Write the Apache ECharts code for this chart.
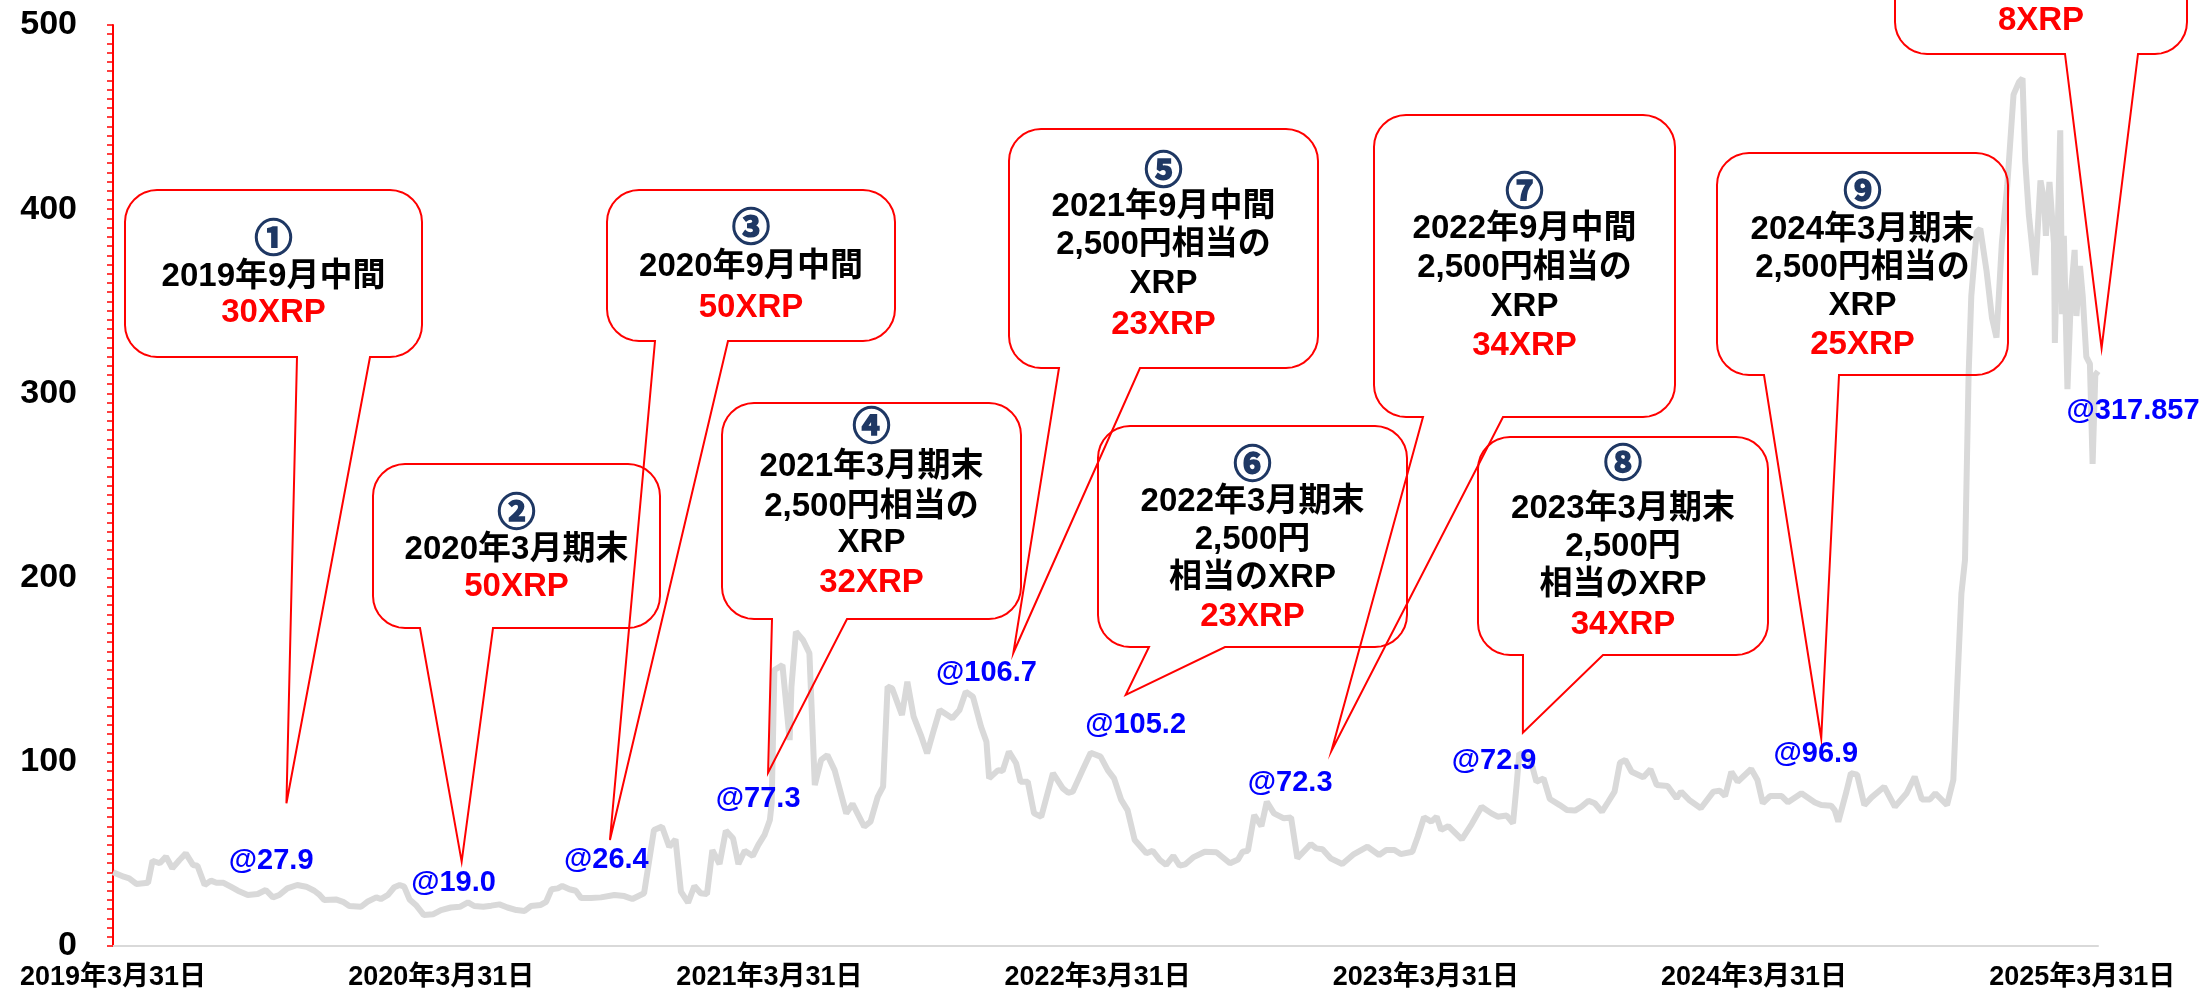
<!DOCTYPE html>
<html>
<head>
<meta charset="utf-8">
<script src="https://cdn.jsdelivr.net/npm/echarts@6/dist/echarts.min.js"></script>
<style>
  html, body { margin: 0; padding: 0; background: #fff; }
  #main { width: 2203px; height: 992px; }
</style>
</head>
<body>
<div id="main"></div>
<script>
// x axis labels (one per fiscal year end)
var xTickLabels = ['2019年3月31日', '2020年3月31日', '2021年3月31日', '2022年3月31日',
                   '2023年3月31日', '2024年3月31日', '2025年3月31日'];

// XRP price in yen
var priceDates = [
  '2019-03-31','2019-04-12','2019-04-18','2019-04-26','2019-05-09','2019-05-14','2019-05-22','2019-05-29',
  '2019-06-05','2019-06-13','2019-06-20','2019-06-28','2019-07-03','2019-07-11','2019-07-18','2019-07-24',
  '2019-08-01','2019-08-10','2019-08-17','2019-08-28','2019-09-08','2019-09-17','2019-09-25','2019-10-02',
  '2019-10-11','2019-10-22','2019-11-01','2019-11-10','2019-11-16','2019-11-21','2019-12-04','2019-12-12',
  '2019-12-19','2020-01-01','2020-01-08','2020-01-18','2020-01-23','2020-01-31','2020-02-07','2020-02-13',
  '2020-02-18','2020-02-24','2020-03-02','2020-03-11','2020-03-21','2020-03-30','2020-04-10','2020-04-20',
  '2020-04-29','2020-05-06','2020-05-16','2020-05-25','2020-06-03','2020-06-12','2020-06-22','2020-07-01',
  '2020-07-08','2020-07-19','2020-07-25','2020-07-31','2020-08-07','2020-08-12','2020-08-20','2020-08-27',
  '2020-09-02','2020-09-13','2020-09-24','2020-10-09','2020-10-20','2020-10-29','2020-11-11','2020-11-22',
  '2020-12-01','2020-12-09','2020-12-16','2020-12-22','2020-12-30','2021-01-06','2021-01-13','2021-01-20',
  '2021-01-26','2021-02-03','2021-02-10','2021-02-18','2021-02-24','2021-03-03','2021-03-12','2021-03-18',
  '2021-03-25','2021-03-31','2021-04-02','2021-04-05','2021-04-14','2021-04-22','2021-04-24','2021-04-29',
  '2021-05-07','2021-05-14','2021-05-20','2021-05-27','2021-06-03','2021-06-11','2021-06-24','2021-07-01',
  '2021-07-14','2021-07-21','2021-07-29','2021-08-04','2021-08-09','2021-08-14','2021-08-25','2021-08-31',
  '2021-09-07','2021-09-15','2021-09-22','2021-09-30','2021-10-06','2021-10-20','2021-10-28','2021-11-04',
  '2021-11-12','2021-11-21','2021-11-27','2021-11-30','2021-12-10','2021-12-15','2021-12-22','2021-12-30',
  '2022-01-04','2022-01-12','2022-01-19','2022-01-27','2022-02-09','2022-02-20','2022-02-26','2022-03-03',
  '2022-03-14','2022-03-23','2022-04-03','2022-04-11','2022-04-18','2022-04-26','2022-05-03','2022-05-11',
  '2022-05-24','2022-05-31','2022-06-08','2022-06-15','2022-06-23','2022-06-30','2022-07-06','2022-07-15',
  '2022-07-28','2022-08-10','2022-08-25','2022-09-03','2022-09-08','2022-09-14','2022-09-21','2022-09-29',
  '2022-10-05','2022-10-13','2022-10-24','2022-11-01','2022-11-08','2022-11-23','2022-11-29','2022-12-06',
  '2022-12-15','2022-12-28','2023-01-10','2023-01-25','2023-02-07','2023-02-15','2023-02-24','2023-03-03',
  '2023-03-16','2023-03-22','2023-03-29','2023-04-06','2023-04-12','2023-04-17','2023-04-25','2023-05-10',
  '2023-05-21','2023-06-01','2023-06-12','2023-06-19','2023-06-29','2023-07-06','2023-07-10','2023-07-13',
  '2023-07-25','2023-08-01','2023-08-09','2023-08-16','2023-08-27','2023-09-04','2023-09-13','2023-09-20',
  '2023-09-28','2023-10-05','2023-10-13','2023-10-20','2023-10-27','2023-11-02','2023-11-08','2023-11-15',
  '2023-11-28','2023-12-06','2023-12-13','2023-12-25','2024-01-04','2024-01-09','2024-01-18','2024-01-31',
  '2024-02-14','2024-02-21','2024-02-27','2024-03-05','2024-03-12','2024-03-27','2024-04-03','2024-04-09',
  '2024-04-17','2024-04-30','2024-05-07','2024-05-22','2024-06-06','2024-06-13','2024-06-24','2024-06-28',
  '2024-07-02','2024-07-11','2024-07-16','2024-07-23','2024-07-31','2024-08-08','2024-08-22','2024-09-03',
  '2024-09-16','2024-09-25','2024-10-03','2024-10-12','2024-10-18','2024-10-31','2024-11-07','2024-11-11',
  '2024-11-16','2024-11-20','2024-11-24','2024-11-27','2024-12-03','2024-12-07','2024-12-14','2024-12-20',
  '2024-12-25','2024-12-31','2025-01-06','2025-01-13','2025-01-19','2025-01-23','2025-01-26','2025-01-30',
  '2025-02-06','2025-02-12','2025-02-16','2025-02-18','2025-02-22','2025-02-27','2025-02-28','2025-03-06',
  '2025-03-08','2025-03-10','2025-03-14','2025-03-18','2025-03-22','2025-03-24','2025-03-28','2025-03-31',
  '2025-04-04','2025-04-08','2025-04-11','2025-04-14','2025-04-17'
];
var priceValues = [
  40.0, 37.6, 36.7, 33.7, 34.3, 46.3, 44.9, 48.5,
  42.2, 46.7, 50.3, 44.0, 43.6, 33.1, 35.5, 34.3,
  34.3, 31.9, 30.0, 27.7, 28.2, 30.4, 26.4, 27.7,
  31.3, 33.1, 32.2, 30.0, 27.7, 25.0, 25.3, 24.0,
  21.7, 21.3, 24.0, 26.4, 25.5, 27.7, 31.9, 33.1,
  32.2, 25.3, 22.3, 16.8, 17.2, 19.5, 20.9, 21.3,
  23.7, 21.7, 21.3, 21.9, 22.6, 20.9, 19.5, 19.0,
  21.7, 22.3, 24.0, 30.8, 31.3, 32.6, 30.8, 30.0,
  26.0, 26.0, 26.4, 27.7, 27.1, 25.5, 28.6, 63.0,
  64.8, 53.9, 57.9, 29.5, 23.5, 32.6, 28.6, 28.2,
  52.1, 44.5, 62.6, 58.5, 44.5, 51.7, 48.9, 54.8,
  60.3, 68.4, 77.5, 149.8, 152.5, 111.8, 140.8, 170.6,
  166.0, 158.9, 87.4, 101.0, 103.7, 95.5, 72.0, 77.1,
  64.8, 67.5, 81.0, 86.5, 140.8, 139.9, 125.4, 143.5,
  124.5, 114.5, 104.6, 118.2, 128.1, 123.6, 128.1, 138.0,
  135.3, 119.0, 110.9, 91.0, 95.5, 95.0, 105.5, 99.2,
  89.2, 89.2, 72.0, 70.2, 93.8, 85.6, 83.2, 83.8,
  95.5, 104.9, 102.8, 95.5, 91.0, 79.3, 73.8, 57.5,
  50.3, 51.7, 46.7, 44.0, 48.9, 43.6, 44.3, 48.1,
  51.2, 50.9, 44.9, 47.0, 51.2, 51.7, 71.1, 65.1,
  78.3, 72.0, 69.3, 69.8, 47.6, 55.4, 53.0, 52.5,
  47.6, 44.5, 49.9, 53.9, 49.4, 52.1, 52.1, 49.9,
  51.2, 59.3, 69.9, 67.5, 70.2, 63.0, 65.1, 57.9,
  66.2, 75.6, 72.0, 70.2, 70.8, 66.6, 87.4, 104.6,
  101.9, 89.2, 91.0, 79.8, 76.5, 73.8, 73.5, 75.6,
  78.9, 77.5, 72.9, 78.3, 83.8, 99.5, 101.0, 94.6,
  91.6, 95.9, 87.4, 86.9, 80.2, 83.8, 79.3, 74.8,
  83.8, 84.3, 81.4, 94.6, 89.2, 96.1, 90.1, 77.5,
  81.4, 81.4, 78.0, 82.9, 77.9, 76.5, 76.2, 73.8,
  67.5, 83.8, 93.8, 93.0, 76.5, 80.7, 86.5, 75.6,
  82.9, 91.9, 79.6, 79.6, 82.9, 76.5, 90.1, 137.2,
  191.4, 209.6, 310.0, 352.9, 387.6, 389.4, 366.4, 341.0,
  330.3, 381.6, 412.8, 462.2, 469.0, 471.0, 426.3, 397.2,
  364.3, 415.6, 405.0, 385.6, 414.8, 381.7, 327.4, 442.8,
  343.0, 385.6, 302.3, 354.6, 377.9, 342.0, 369.2, 352.9,
  319.8, 316.0, 261.7, 310.0, 312.0
];

// speech-bubble notes
var noteLines = [
  ['①', '2019年9月中間', '30XRP'],
  ['②', '2020年3月期末', '50XRP'],
  ['③', '2020年9月中間', '50XRP'],
  ['④', '2021年3月期末', '2,500円相当の', 'XRP', '32XRP'],
  ['⑤', '2021年9月中間', '2,500円相当の', 'XRP', '23XRP'],
  ['⑥', '2022年3月期末', '2,500円', '相当のXRP', '23XRP'],
  ['⑦', '2022年9月中間', '2,500円相当の', 'XRP', '34XRP'],
  ['⑧', '2023年3月期末', '2,500円', '相当のXRP', '34XRP'],
  ['⑨', '2024年3月期末', '2,500円相当の', 'XRP', '25XRP'],
  ['8XRP']
];
// where each bubble points (date, yen)
var noteTips = [
  ['2019-10-10', 77.5], ['2020-04-22', 45.8], ['2020-10-04', 57.5], ['2021-03-29', 94.1],
  ['2021-12-27', 159.2], ['2022-05-01', 136.3], ['2022-12-16', 106], ['2023-07-17', 115.8],
  ['2024-06-13', 112.8], ['2025-04-21', 324.6]
];

// price tags next to the line
var priceTags = ['@27.9', '@19.0', '@26.4', '@77.3', '@106.7', '@105.2', '@72.3', '@72.9', '@96.9', '@317.857'];
var tagAnchors = [
  ['2019-09-23', 46.3], ['2020-04-13', 34.4], ['2020-09-30', 46.7], ['2021-03-18', 79.8],
  ['2021-11-27', 148], ['2022-05-12', 120], ['2022-10-31', 88.7], ['2023-06-15', 100.6],
  ['2024-06-07', 104.1], ['2025-05-26', 290.6]
];

// bubble layout in px: box [x, y, w, h], pointer base x's, text line centres
var noteBoxes = [[125,190,297,167],[373,464,287,164],[607,190,288,151],[722,403,299,216],[1009,129,309,239],
                 [1098,426,309,221],[1374,115,301,302],[1478,437,290,218],[1717,153,291,222],[1895,-180,292,234]];
var noteBases = [[297,370],[420,493],[655,728],[772,847],[1059,1140],[1149,1225],[1423,1503],[1523,1603],[1764,1839],[2065,2138]];
var noteTextY = [
  [237, 277, 313], [511, 550, 587], [226, 267, 308],
  [425, 467, 507, 543, 583], [169, 207, 245, 284, 325], [463, 502, 540, 578, 617],
  [190, 229, 268, 307, 346], [462, 509, 547, 585, 625], [190, 230, 268, 306, 345], [21]
];

var DAY = 86400000;
var BASE = Date.parse('2019-03-31');
function dayOf(d) { return (Date.parse(d) - BASE) / DAY; }
var YEAR = 365.25;

var seriesData = priceDates.map(function (d, i) { return [dayOf(d), priceValues[i]]; });

var myChart = echarts.init(document.getElementById('main'));
var numFont = '"Liberation Sans", "Noto Sans CJK JP", sans-serif';

myChart.setOption({
  backgroundColor: '#fff',
  animation: false,
  grid: { left: 113, right: 105, top: 25, bottom: 46, containLabel: false },
  xAxis: {
    type: 'value',
    min: 0,
    max: dayOf('2025-04-17'),
    interval: YEAR,
    splitLine: { show: false },
    axisTick: { show: false },
    axisLine: { show: true, lineStyle: { color: '#d9d9d9', width: 2 } },
    axisLabel: {
      margin: 18,
      showMaxLabel: false,
      fontFamily: numFont,
      fontWeight: 'bold',
      fontSize: 27,
      color: '#000',
      formatter: function (v) {
        var k = v / YEAR;
        if (Math.abs(k - Math.round(k)) > 0.01) return '';
        return xTickLabels[Math.round(k)] || '';
      }
    }
  },
  yAxis: {
    type: 'value',
    min: 0,
    max: 500,
    interval: 100,
    splitLine: { show: false },
    axisLine: { show: true, lineStyle: { color: '#ff0000', width: 2 } },
    axisTick: { show: true, length: 6, lineStyle: { color: '#ff0000', width: 1.5 } },
    minorTick: { show: true, splitNumber: 20, length: 6, lineStyle: { color: '#ff0000', width: 1.5 } },
    axisLabel: {
      margin: 36,
      fontFamily: numFont,
      fontWeight: 'bold',
      fontSize: 34,
      color: '#000'
    }
  },
  series: [{
    type: 'line',
    data: seriesData,
    symbol: 'none',
    lineStyle: { color: '#d9d9d9', width: 6 },
    z: 2
  }]
});

// rounded corner as a short run of points
function corner(cx, cy, r, a0, a1) {
  var pts = [];
  for (var s = 0; s <= 8; s++) {
    var a = a0 + (a1 - a0) * s / 8;
    pts.push([cx + r * Math.cos(a), cy + r * Math.sin(a)]);
  }
  return pts;
}

function bubblePoints(box, base, tip) {
  var x = box[0], y = box[1], w = box[2], h = box[3], r = 32, b = y + h;
  var P = Math.PI;
  var pts = [];
  pts = pts.concat(corner(x + w - r, y + r, r, -P / 2, 0));
  pts = pts.concat(corner(x + w - r, b - r, r, 0, P / 2));
  pts.push([base[1], b], [tip[0], tip[1]], [base[0], b]);
  pts = pts.concat(corner(x + r, b - r, r, P / 2, P));
  pts = pts.concat(corner(x + r, y + r, r, P, P * 1.5));
  return pts;
}

var elements = [];
noteLines.forEach(function (lines, i) {
  var tip = myChart.convertToPixel({ gridIndex: 0 }, [dayOf(noteTips[i][0]), noteTips[i][1]]);
  var box = noteBoxes[i];
  elements.push({
    type: 'polygon',
    z: 10,
    shape: { points: bubblePoints(box, noteBases[i], tip) },
    style: { fill: null, stroke: '#ff0000', lineWidth: 2 }
  });
  var cx = box[0] + box[2] / 2;
  lines.forEach(function (t, j) {
    var style = { text: t, font: 'bold 33px ' + numFont, fill: '#000', align: 'center', verticalAlign: 'middle' };
    if (j === lines.length - 1) style.fill = '#ff0000';
    else if (j === 0) {
      // circled number: navy, heavier
      style.font = 'bold 38px "Noto Sans CJK JP", sans-serif';
      style.fill = '#1f3864';
      style.stroke = '#1f3864';
      style.lineWidth = 1.6;
    }
    elements.push({ type: 'text', z: 11, x: cx, y: noteTextY[i][j], style: style });
  });
});

priceTags.forEach(function (t, i) {
  var p = myChart.convertToPixel({ gridIndex: 0 }, [dayOf(tagAnchors[i][0]), tagAnchors[i][1]]);
  elements.push({
    type: 'text',
    z: 12,
    x: p[0],
    y: p[1],
    style: { text: t, font: 'bold 29px ' + numFont, fill: '#0000ff', align: 'center', verticalAlign: 'middle' }
  });
});

myChart.setOption({ graphic: { elements: elements } });
</script>
</body>
</html>
